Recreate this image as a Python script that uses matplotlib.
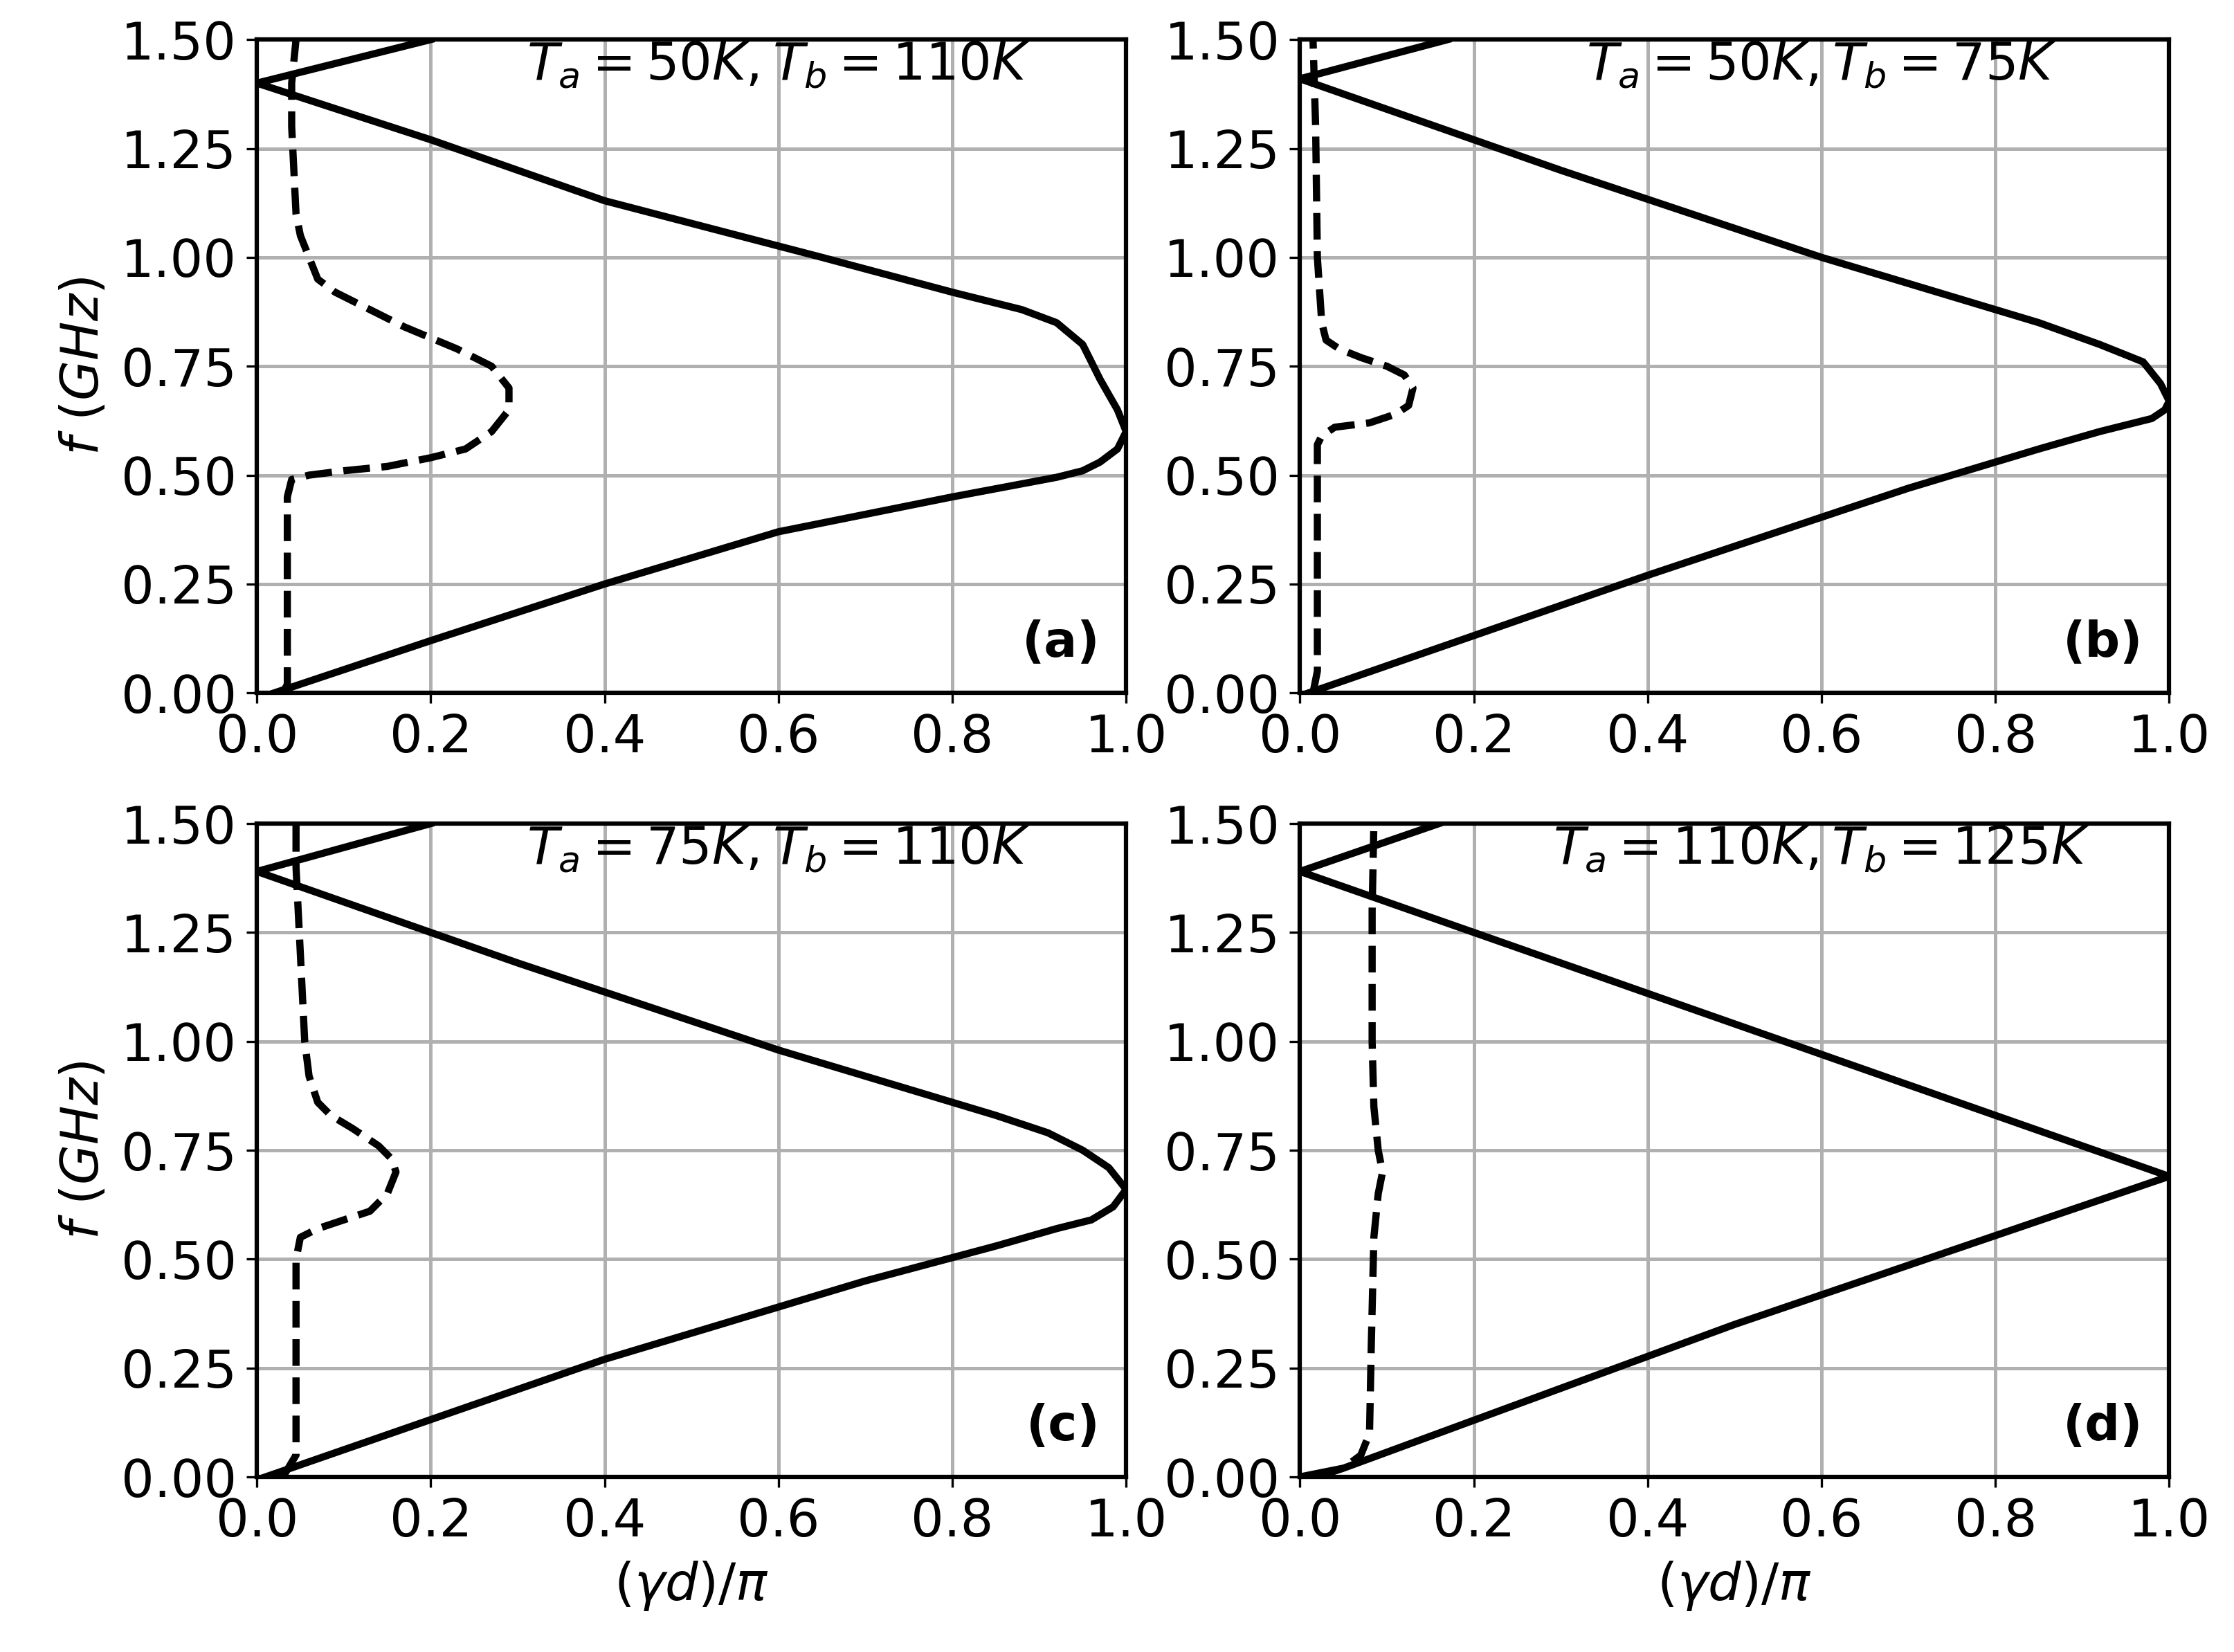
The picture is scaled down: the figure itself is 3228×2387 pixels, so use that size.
import matplotlib
matplotlib.use('Agg')
import matplotlib.pyplot as plt

plt.rcParams['font.size'] = 18

# real part (solid) per panel: x = (gamma d)/pi, y = f (GHz)
re_a_x = [0.02, 0.2, 0.4, 0.6, 0.8, 0.88, 0.92, 0.95, 0.97, 0.99, 1.0, 0.99, 0.97, 0.95, 0.92, 0.88, 0.8, 0.65, 0.4, 0.2, 0.0, 0.2]
re_a_f = [0.0, 0.12, 0.25, 0.37, 0.45, 0.48, 0.495, 0.51, 0.53, 0.56, 0.6, 0.65, 0.72, 0.8, 0.85, 0.88, 0.92, 1.0, 1.13, 1.27, 1.4, 1.5]
re_b_x = [0.01, 0.4, 0.7, 0.85, 0.92, 0.96, 0.98, 0.995, 1.0, 0.99, 0.97, 0.92, 0.85, 0.6, 0.3, 0.0, 0.17]
re_b_f = [0.0, 0.27, 0.47, 0.56, 0.6, 0.62, 0.63, 0.65, 0.67, 0.71, 0.76, 0.8, 0.85, 1.0, 1.2, 1.41, 1.5]
re_c_x = [0.01, 0.4, 0.7, 0.85, 0.92, 0.96, 0.985, 1.0, 0.98, 0.95, 0.91, 0.85, 0.6, 0.3, 0.0, 0.2]
re_c_f = [0.0, 0.27, 0.45, 0.53, 0.57, 0.59, 0.62, 0.66, 0.71, 0.75, 0.79, 0.83, 0.98, 1.18, 1.39, 1.5]
re_d_x = [0.0, 0.05, 0.5, 1.0, 0.5, 0.0, 0.16]
re_d_f = [0.0, 0.02, 0.35, 0.69, 1.04, 1.39, 1.5]

# imaginary part (dashed)
im_a_x = [0.03, 0.035, 0.035, 0.04, 0.06, 0.1, 0.15, 0.2, 0.24, 0.27, 0.29, 0.29, 0.27, 0.23, 0.17, 0.12, 0.09, 0.07, 0.06, 0.05, 0.045, 0.04, 0.04, 0.045]
im_a_f = [0.0, 0.02, 0.45, 0.49, 0.5, 0.51, 0.52, 0.54, 0.56, 0.6, 0.65, 0.7, 0.75, 0.79, 0.84, 0.89, 0.92, 0.95, 1.0, 1.05, 1.1, 1.3, 1.4, 1.5]
im_b_x = [0.015, 0.02, 0.02, 0.025, 0.04, 0.08, 0.11, 0.125, 0.13, 0.12, 0.1, 0.07, 0.045, 0.03, 0.025, 0.02, 0.018, 0.015]
im_b_f = [0.0, 0.05, 0.57, 0.59, 0.61, 0.62, 0.64, 0.66, 0.7, 0.73, 0.75, 0.77, 0.79, 0.81, 0.85, 1.0, 1.3, 1.5]
im_c_x = [0.03, 0.045, 0.045, 0.05, 0.07, 0.1, 0.13, 0.15, 0.16, 0.155, 0.14, 0.11, 0.085, 0.07, 0.06, 0.055, 0.05, 0.045, 0.045]
im_c_f = [0.0, 0.05, 0.5, 0.55, 0.57, 0.59, 0.61, 0.65, 0.7, 0.73, 0.76, 0.8, 0.83, 0.86, 0.92, 1.0, 1.2, 1.4, 1.5]
im_d_x = [0.02, 0.05, 0.07, 0.08, 0.082, 0.085, 0.09, 0.095, 0.09, 0.085, 0.083, 0.083, 0.085]
im_d_f = [0.0, 0.02, 0.05, 0.1, 0.3, 0.55, 0.65, 0.7, 0.75, 0.85, 1.0, 1.3, 1.5]

titles = [r'$T_a = 50K, T_b = 110K$', r'$T_a = 50K, T_b = 75K$',
          r'$T_a = 75K, T_b = 110K$', r'$T_a = 110K, T_b = 125K$']
tags = ['(a)', '(b)', '(c)', '(d)']
re_data = [(re_a_x, re_a_f), (re_b_x, re_b_f), (re_c_x, re_c_f), (re_d_x, re_d_f)]
im_data = [(im_a_x, im_a_f), (im_b_x, im_b_f), (im_c_x, im_c_f), (im_d_x, im_d_f)]

fig, axes = plt.subplots(2, 2, figsize=(10.76, 7.957), dpi=300)
fig.subplots_adjust(left=0.115, right=0.971, top=0.976, bottom=0.106, wspace=0.2, hspace=0.2)

for i, ax in enumerate(axes.flat):
    ax.plot(*re_data[i], color='black', lw=2.5)
    ax.plot(*im_data[i], color='black', lw=2.5, ls='--')
    ax.set_xlim(0, 1)
    ax.set_ylim(0, 1.5)
    ax.set_yticks([0, 0.25, 0.5, 0.75, 1.0, 1.25, 1.5])
    ax.yaxis.set_major_formatter(plt.FuncFormatter(lambda v, p: f'{v:.2f}'))
    ax.grid(True, color='#b0b0b0', lw=1.2)
    for s in ax.spines.values():
        s.set_linewidth(1.5)
    ax.text(0.6, 1.44, titles[i], ha='center', va='center', fontsize=18)
    ax.text(0.97, 0.04, tags[i], ha='right', va='bottom', fontsize=17,
            fontweight='bold', transform=ax.transAxes)
    if i % 2 == 0:
        ax.set_ylabel(r'$f$ $(GHz)$')
    if i >= 2:
        ax.set_xlabel(r'$(\gamma d)/\pi$')

plt.savefig('out.png', dpi=300)
